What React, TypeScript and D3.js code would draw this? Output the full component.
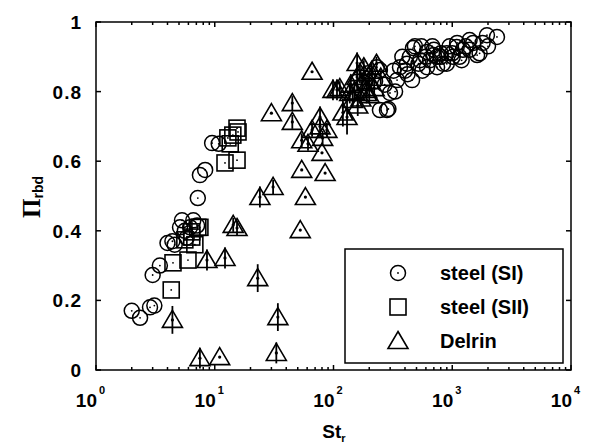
import * as d3 from 'd3'

// steel (SI) – circles
const siSt = [2.0, 2.35, 2.85, 3.1, 3.0, 3.45, 4.0, 4.4, 4.6, 5.1, 5.3, 5.6, 6.2, 7.1, 5.8, 6.6, 7.2, 7.5, 8.3, 9.5, 10.8,
  184, 195, 224, 232, 246, 246, 270, 282, 290, 299, 320, 343, 363, 380, 415, 420, 459, 467, 485, 535, 550, 560, 613, 613,
  650, 700, 700, 745, 745, 800, 800, 836, 900, 900, 950, 1000, 1010, 1090, 1100, 1150, 1200, 1230, 1300, 1400, 1400,
  1500, 1620, 1700, 1800, 1960, 2000, 2380, 330, 400, 440, 520, 600, 680]
const siPi = [0.17, 0.15, 0.18, 0.185, 0.273, 0.3, 0.365, 0.37, 0.36, 0.41, 0.43, 0.4, 0.41, 0.415, 0.38, 0.43, 0.494, 0.56, 0.575, 0.652, 0.65,
  0.825, 0.853, 0.83, 0.87, 0.747, 0.862, 0.82, 0.747, 0.75, 0.796, 0.86, 0.833, 0.87, 0.9, 0.88, 0.85, 0.833, 0.925, 0.93, 0.89, 0.93, 0.86, 0.914, 0.87,
  0.89, 0.92, 0.905, 0.9, 0.87, 0.9, 0.91, 0.88, 0.91, 0.88, 0.93, 0.91, 0.9, 0.928, 0.94, 0.9, 0.89, 0.92, 0.93, 0.948, 0.92,
  0.94, 0.905, 0.91, 0.94, 0.962, 0.93, 0.957, 0.8, 0.86, 0.9, 0.88, 0.9, 0.93]

// steel (SII) – squares
const siiSt = [4.3, 4.45, 5.95, 5.6, 6.4, 6.4, 6.8, 7.2, 7.5, 12.2, 15.4, 12.9, 13.5, 14.2, 15.4, 15.7]
const siiPi = [0.23, 0.308, 0.316, 0.374, 0.382, 0.397, 0.36, 0.41, 0.41, 0.595, 0.603, 0.667, 0.65, 0.675, 0.695, 0.684]

// Delrin – triangles with error bars
const delSt = [4.4, 7.5, 11, 8.6, 12.2, 14.3, 15.4, 23, 24, 31, 30, 33, 34, 45, 45, 52.5, 54, 54, 58, 61, 66, 66, 77, 77, 80, 81, 85, 88,
  99, 107, 113, 120, 130, 137, 140, 145, 150, 158, 158, 160, 167, 170, 174, 180, 190, 190, 200, 200, 210, 220, 230, 250]
const delPi = [0.144, 0.034, 0.037, 0.316, 0.322, 0.417, 0.408, 0.264, 0.497, 0.526, 0.738, 0.049, 0.152, 0.767, 0.713, 0.402, 0.66, 0.575, 0.497, 0.65, 0.857, 0.69, 0.727, 0.7, 0.624, 0.667, 0.566, 0.69,
  0.805, 0.805, 0.81, 0.74, 0.727, 0.796, 0.82, 0.776, 0.8, 0.842, 0.882, 0.76, 0.853, 0.78, 0.825, 0.87, 0.796, 0.805, 0.83, 0.79, 0.86, 0.81, 0.88, 0.84]
const delErr = [0.04, 0.03, 0.0, 0.03, 0.03, 0.02, 0.02, 0.04, 0.03, 0.02, 0.0, 0.03, 0.04, 0.02, 0.02, 0.0, 0.02, 0.0, 0.0, 0.02, 0.0, 0.02, 0.03, 0.03, 0.0, 0.02, 0.0, 0.02,
  0.03, 0.03, 0.02, 0.04, 0.05, 0.03, 0.03, 0.02, 0.03, 0.04, 0.03, 0.03, 0.03, 0.02, 0.03, 0.02, 0.03, 0.02, 0.03, 0.02, 0.02, 0.02, 0.02, 0.02]

const xTickExp = [0, 1, 2, 3, 4]
const yTicks = [0, 0.2, 0.4, 0.6, 0.8, 1]
const legendItems = ['steel (SI)', 'steel (SII)', 'Delrin']

const W = 594
const H = 445
const plot = { left: 96, right: 571, top: 22, bottom: 370 }

const x = d3.scaleLog().domain([1, 1e4]).range([plot.left, plot.right])
const y = d3.scaleLinear().domain([0, 1]).range([plot.bottom, plot.top])

const minorTicks = d3.range(0, 4).flatMap(k => d3.range(2, 10).map(m => m * Math.pow(10, k)))

const tickFont = 'Liberation Sans, Arial, Helvetica, sans-serif'
const ink = '#000'

const triPath = 'M0,-9.5L10,7.5L-10,7.5Z'

const Circle = ({ cx, cy }: { cx: number, cy: number }) => (
  <g>
    <circle cx={cx} cy={cy} r={7.5} fill="none" stroke={ink} strokeWidth={1.5} />
    <circle cx={cx} cy={cy} r={0.9} fill={ink} />
  </g>
)

const Square = ({ cx, cy }: { cx: number, cy: number }) => (
  <g>
    <rect x={cx - 8} y={cy - 8} width={16} height={16} fill="none" stroke={ink} strokeWidth={1.6} />
    <circle cx={cx} cy={cy} r={0.9} fill={ink} />
  </g>
)

const Triangle = ({ cx, cy, dot = true }: { cx: number, cy: number, dot?: boolean }) => (
  <g>
    <path d={triPath} transform={`translate(${cx},${cy})`} fill="none" stroke={ink} strokeWidth={1.6} />
    {dot && <circle cx={cx} cy={cy} r={1.6} fill={ink} />}
  </g>
)

export default function App() {
  const legendX = 345
  const legendY = 249
  const legendW = 218
  const legendH = 114
  const rowY = [273, 307, 341]

  return (
    <svg width={W} height={H} style={{ position: 'absolute', left: 0, top: 0, background: '#fff' }}>
      <rect x={0} y={0} width={W} height={H} fill="#fff" />

      {/* markers */}
      {siSt.map((s, i) => <Circle key={'c' + i} cx={x(s)} cy={y(siPi[i])} />)}
      {siiSt.map((s, i) => <Square key={'s' + i} cx={x(s)} cy={y(siiPi[i])} />)}
      {delSt.map((s, i) => (
        <g key={'t' + i}>
          {delErr[i] > 0 && (
            <line x1={x(s)} x2={x(s)} y1={y(delPi[i] - delErr[i])} y2={y(delPi[i] + delErr[i])} stroke={ink} strokeWidth={1.8} />
          )}
          <Triangle cx={x(s)} cy={y(delPi[i])} />
        </g>
      ))}

      {/* axes box */}
      <rect x={plot.left} y={plot.top} width={plot.right - plot.left} height={plot.bottom - plot.top}
        fill="none" stroke={ink} strokeWidth={1.5} />

      {/* x ticks */}
      {xTickExp.map(k => {
        const px = x(Math.pow(10, k))
        return (
          <g key={'xt' + k}>
            <line x1={px} x2={px} y1={plot.bottom} y2={plot.bottom - 5} stroke={ink} strokeWidth={1.5} />
            <line x1={px} x2={px} y1={plot.top} y2={plot.top + 5} stroke={ink} strokeWidth={1.5} />
            <text x={px + 1} y={407} textAnchor="end" fontFamily={tickFont} fontWeight="bold" fontSize={19}>10</text>
            <text x={px + 3} y={394} fontFamily={tickFont} fontWeight="bold" fontSize={11}>{k}</text>
          </g>
        )
      })}
      {minorTicks.map((v, i) => (
        <g key={'mt' + i}>
          <line x1={x(v)} x2={x(v)} y1={plot.bottom} y2={plot.bottom - 3} stroke={ink} strokeWidth={1.5} />
          <line x1={x(v)} x2={x(v)} y1={plot.top} y2={plot.top + 3} stroke={ink} strokeWidth={1.5} />
        </g>
      ))}

      {/* y ticks */}
      {yTicks.map(t => (
        <g key={'yt' + t}>
          <line x1={plot.left} x2={plot.left + 5} y1={y(t)} y2={y(t)} stroke={ink} strokeWidth={1.5} />
          <line x1={plot.right} x2={plot.right - 5} y1={y(t)} y2={y(t)} stroke={ink} strokeWidth={1.5} />
          <text x={82} y={y(t) + 7} textAnchor="end" fontFamily={tickFont} fontWeight="bold" fontSize={19}
            letterSpacing={1}>{String(t)}</text>
        </g>
      ))}

      {/* axis labels */}
      <text x={334} y={438} textAnchor="middle" fontFamily={tickFont} fontWeight="bold" fontSize={19}>
        St<tspan fontSize={11} dy={4}>r</tspan>
      </text>
      <text transform="translate(40,197) rotate(-90)" textAnchor="middle" fontWeight="bold">
        <tspan fontFamily="Liberation Serif, Times New Roman, serif" fontSize={25}>Π</tspan>
        <tspan fontFamily={tickFont} fontSize={14} dy={3}>rbd</tspan>
      </text>

      {/* legend */}
      <rect x={legendX} y={legendY} width={legendW} height={legendH} fill="#fff" stroke={ink} strokeWidth={1.5} />
      <Circle cx={398} cy={rowY[0]} />
      <rect x={390} y={rowY[1] - 8} width={16} height={16} fill="none" stroke={ink} strokeWidth={1.6} />
      <Triangle cx={398} cy={rowY[2]} dot={false} />
      {legendItems.map((d, i) => (
        <text key={d} x={440} y={rowY[i] + 7} fontFamily={tickFont} fontWeight="bold" fontSize={20}>{d}</text>
      ))}
    </svg>
  )
}
